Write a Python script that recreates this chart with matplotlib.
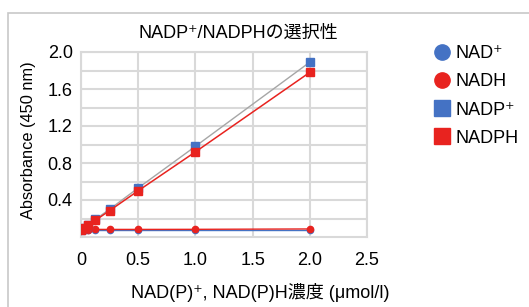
import matplotlib
matplotlib.use("Agg")
import matplotlib.pyplot as plt
from matplotlib.patches import Rectangle
from matplotlib.lines import Line2D

plt.rcParams['font.family'] = ['Liberation Sans', 'Noto Sans CJK JP', 'DejaVu Sans']

# data
conc = [0, 0.03125, 0.0625, 0.125, 0.25, 0.5, 1.0, 2.0]
nad_plus = [0.08, 0.08, 0.08, 0.08, 0.08, 0.08, 0.08, 0.08]
nadh = [0.08, 0.08, 0.08, 0.082, 0.082, 0.082, 0.083, 0.087]
nadp_plus = [0.08, 0.10, 0.13, 0.19, 0.30, 0.53, 0.98, 1.89]
nadph = [0.08, 0.10, 0.125, 0.18, 0.285, 0.50, 0.92, 1.78]

x_ticks = [0, 0.5, 1.0, 1.5, 2.0, 2.5]
x_labels = ['0', '0.5', '1.0', '1.5', '2.0', '2.5']
y_ticks = [0.4, 0.8, 1.2, 1.6, 2.0]
y_labels = ['0.4', '0.8', '1.2', '1.6', '2.0']

blue = '#4472C4'
red = '#E8231F'
grid_c = '#d9d9d9'

fig = plt.figure(figsize=(5.29, 3.07), dpi=100)
ax = fig.add_axes([81/529, 1-237/307, (367-81)/529, (237-52)/307])

# outer frame
fig.patches.append(Rectangle((8/529, -0.1), 1.2, 1-13/307+0.1, transform=fig.transFigure,
                             fill=False, edgecolor='#c8c8c8', linewidth=1.2))

ax.plot(conc, nad_plus, color=blue, lw=1, marker='o', ms=4.5, zorder=3)
ax.plot(conc, nadh, color=red, lw=1, marker='o', ms=4.5, zorder=4)
ax.plot(conc, nadp_plus, color='#a6a6a6', lw=1, zorder=3)
ax.plot(conc, nadp_plus, ls='none', color=blue, marker='s', ms=6, zorder=5)
ax.plot(conc, nadph, color=red, lw=1.1, marker='s', ms=6, zorder=6)

ax.set_xlim(0, 2.5)
ax.set_ylim(0, 2.0)
ax.set_xticks(x_ticks)
ax.set_xticklabels(x_labels)
ax.set_yticks(y_ticks)
ax.set_yticklabels(y_labels)
ax.set_yticks([0.2, 0.6, 1.0, 1.4, 1.8], minor=True)
ax.tick_params(axis='both', which='both', length=0, labelsize=13)
ax.tick_params(axis='x', pad=11)
ax.tick_params(axis='y', pad=6)
ax.grid(True, which='both', color=grid_c, lw=1.5)
ax.set_axisbelow(True)
for s in ax.spines.values():
    s.set_color(grid_c)
    s.set_linewidth(1.5)

fig.text(238/529, 1-33/307, 'NADP⁺/NADPHの選択性', ha='center', va='center', fontsize=13)
fig.text(260/529, 1-293/307, 'NAD(P)⁺, NAD(P)H濃度 (μmol/l)', ha='center', va='center', fontsize=13)
fig.text(29/529, 1-140/307, 'Absorbance (450 nm)', ha='center', va='center', rotation=90, fontsize=11.8)

handles = [
    Line2D([], [], ls='none', marker='o', color=blue, ms=11),
    Line2D([], [], ls='none', marker='o', color=red, ms=11),
    Line2D([], [], ls='none', marker='s', color=blue, ms=11),
    Line2D([], [], ls='none', marker='s', color=red, ms=11),
]
fig.legend(handles, ['NAD⁺', 'NADH', 'NADP⁺', 'NADPH'], loc='upper left',
           bbox_to_anchor=(428/529, 1-38/307), frameon=False, fontsize=13,
           handlelength=0.8, handletextpad=0.35, labelspacing=0.62, borderaxespad=0)

fig.savefig('out.png', dpi=100)
